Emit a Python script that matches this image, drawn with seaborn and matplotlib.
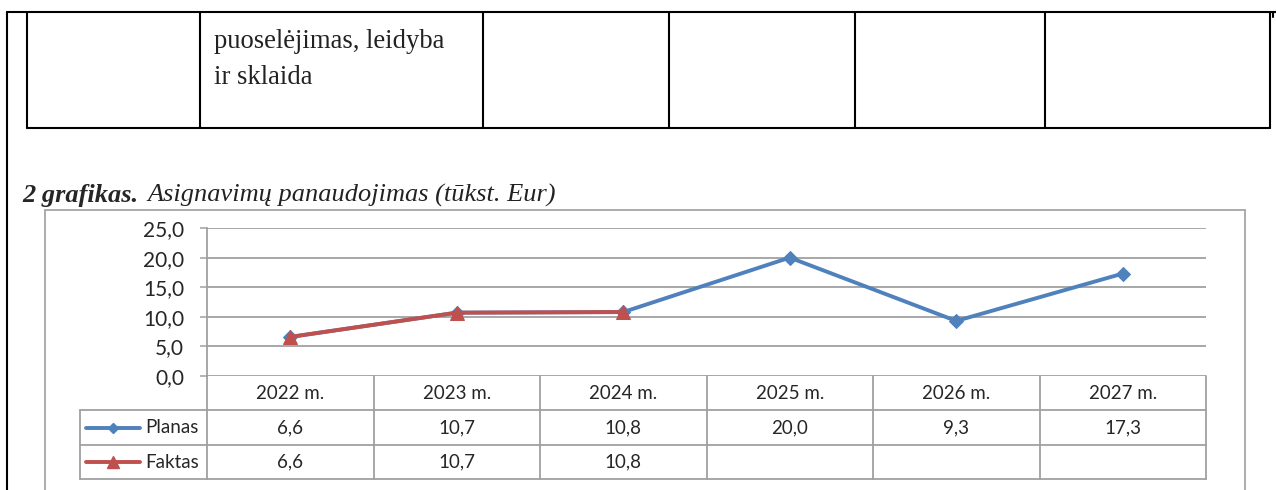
import numpy as np
import pandas as pd
import seaborn as sns
import matplotlib.pyplot as plt
from matplotlib.transforms import blended_transform_factory

# Data
years = ['2022 m.', '2023 m.', '2024 m.', '2025 m.', '2026 m.', '2027 m.']
planas = [6.6, 10.7, 10.8, 20.0, 9.3, 17.3]
faktas = [6.6, 10.7, 10.8, np.nan, np.nan, np.nan]
series_names = ['Planas', 'Faktas']
y_ticks = [0, 5, 10, 15, 20, 25]

blue = '#4F81BD'
red = '#C0504D'
grid_gray = '#A0A0A0'

sns.set_style('white')
plt.rcParams['font.family'] = ['Lato', 'DejaVu Sans']

W, H = 1276, 490
fig = plt.figure(figsize=(W / 100, H / 100), dpi=100)

# background axes in pixel coords (for the page elements)
bg = fig.add_axes([0, 0, 1, 1])
bg.set_xlim(0, W)
bg.set_ylim(H, 0)
bg.axis('off')

# upper document table
lw_doc = 1.5
bg.plot([7, W], [12, 12], color='black', lw=lw_doc)
bg.plot([1273, 1273], [12, 17], color='black', lw=lw_doc)
bg.plot([7, 7], [12, H], color='black', lw=lw_doc)
for x in [27, 200, 483, 669, 855, 1045, 1270]:
    bg.plot([x, x], [12, 128], color='black', lw=lw_doc)
bg.plot([27, 1270], [128, 128], color='black', lw=lw_doc)
bg.text(214, 48, 'puoselėjimas, leidyba', family='Liberation Serif', fontsize=19.2,
        va='baseline', color='#222222')
bg.text(214, 84, 'ir sklaida', family='Liberation Serif', fontsize=19.2,
        va='baseline', color='#222222')

# caption
bg.text(22, 202, '2 grafikas.', family='Liberation Serif', fontsize=19,
        fontweight='bold', fontstyle='italic', va='baseline')
bg.text(147, 202, 'Asignavimų panaudojimas (tūkst. Eur)', family='Liberation Serif',
        fontsize=19, fontstyle='italic', va='baseline', color='#222222')

# chart frame
frame_c = '#A6A6A6'
bg.plot([45, 1245], [210, 210], color=frame_c, lw=1.3)
bg.plot([45, 45], [210, H], color=frame_c, lw=1.3)
bg.plot([1245, 1245], [210, H], color=frame_c, lw=1.3)

# plot area
ax = fig.add_axes([207 / W, (H - 376) / H, (1206 - 207) / W, (376 - 228) / H])
ax.set_facecolor('none')
idx = np.arange(len(years))
df = pd.DataFrame({'idx': idx, 'Planas': planas, 'Faktas': faktas})

sns.lineplot(data=df, x='idx', y='Planas', ax=ax, color=blue, lw=2.8,
             marker='D', markersize=7, markeredgecolor=blue, zorder=3)
sns.lineplot(data=df, x='idx', y='Faktas', ax=ax, color=red, lw=2.8,
             marker='^', markersize=10, markeredgecolor=red, zorder=4)

ax.set_xlim(-0.5, len(years) - 0.5)
ax.set_ylim(0, 25)
ax.set_yticks(y_ticks)
ax.set_yticklabels([f'{v:.1f}'.replace('.', ',') for v in y_ticks], fontsize=15)
ax.set_xticks([])
ax.set_xlabel('')
ax.set_ylabel('')
for v in y_ticks:
    ax.axhline(v, color=grid_gray, lw=1.3, zorder=1)
for s in ['top', 'right', 'bottom']:
    ax.spines[s].set_visible(False)
ax.spines['left'].set_color(grid_gray)
ax.spines['left'].set_linewidth(1.3)
ax.tick_params(axis='y', length=5, width=1.1, color=grid_gray, pad=11.5, left=True)

# data table under the plot (x from the category axis, y in pixels)
tr = blended_transform_factory(ax.transData, bg.transData)
row_y = [376, 410, 445, 479]
for i in range(len(years) + 1):
    bg.plot([i - 0.5, i - 0.5], [376, 479], color=grid_gray, lw=1.3, transform=tr)
for y in row_y[1:]:
    bg.plot([-0.5, len(years) - 0.5], [y, y], color=grid_gray, lw=1.3, transform=tr)
    bg.plot([80, 207], [y, y], color=grid_gray, lw=1.3)
bg.plot([80, 80], [410, 479], color=grid_gray, lw=1.3)

for i, yr in enumerate(years):
    bg.text(i, 393, yr, transform=tr, ha='center', va='center', fontsize=13.5)
    bg.text(i, 427.5, f'{planas[i]:.1f}'.replace('.', ','), transform=tr,
            ha='center', va='center', fontsize=13.5)
    if not np.isnan(faktas[i]):
        bg.text(i, 462, f'{faktas[i]:.1f}'.replace('.', ','), transform=tr,
                ha='center', va='center', fontsize=13.5)

# legend keys
for name, yy, col, mk, ms in [(series_names[0], 427.5, blue, 'D', 5),
                              (series_names[1], 462, red, '^', 8)]:
    bg.plot([86, 140], [yy, yy], color=col, lw=2.8, solid_capstyle='round')
    bg.plot([113], [yy], marker=mk, markersize=ms, color=col)
    bg.text(145, yy, name, ha='left', va='center', fontsize=13.5)

plt.savefig('out.png', dpi=100)
plt.close()
